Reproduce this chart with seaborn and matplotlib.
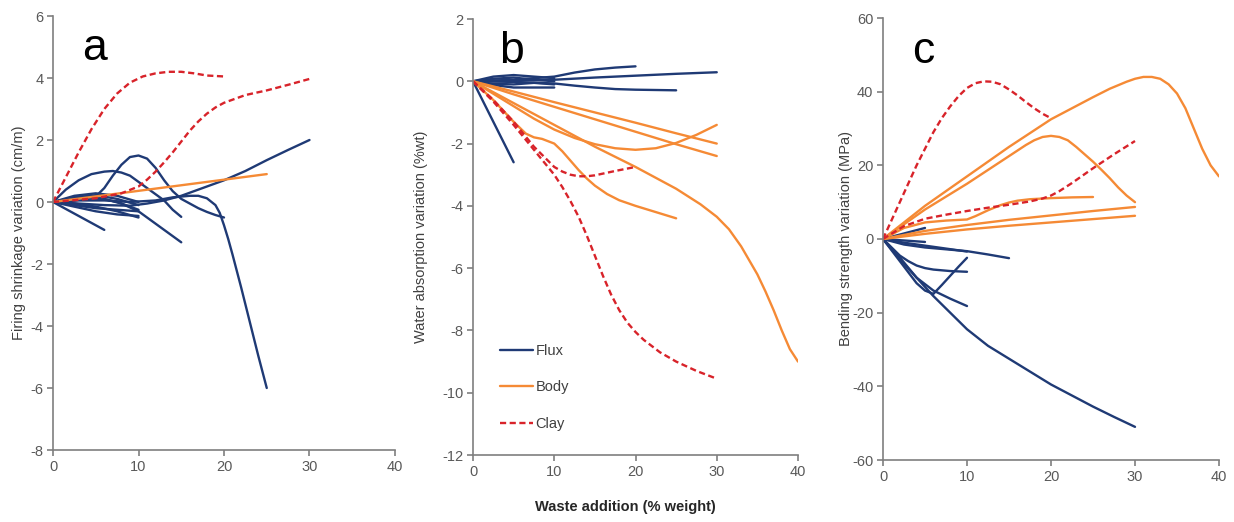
import numpy as np
import pandas as pd
import matplotlib
matplotlib.use("Agg")
import matplotlib.pyplot as plt
import seaborn as sns

sns.set_style("white")
plt.rcParams['font.family'] = ['Liberation Sans', 'DejaVu Sans']
plt.rcParams['axes.unicode_minus'] = False

# ---------------- data ----------------
categories = ["Flux", "Body", "Clay"]
colors = {"Flux": "#1F3A75", "Body": "#F58A35", "Clay": "#D8232A"}

# Panel a: Firing shrinkage variation (cm/m)
a_flux = [
    ([0, 2, 4, 6], [0, -0.3, -0.6, -0.9]),
    ([0, 1.5, 3, 4.5, 6, 7, 8, 9, 10, 11, 12, 13, 14, 15],
     [0, 0.4, 0.7, 0.9, 0.98, 1.0, 0.95, 0.85, 0.65, 0.45, 0.25, 0.05, -0.25, -0.48]),
    ([0, 2, 4, 5, 6, 7, 8, 9, 10, 11, 12, 13, 14, 15, 16, 17, 18, 19, 20],
     [0, 0.05, 0.1, 0.18, 0.45, 0.85, 1.2, 1.45, 1.5, 1.4, 1.1, 0.7, 0.35, 0.1, -0.05, -0.2, -0.32, -0.42, -0.5]),
    ([0, 3, 6, 9, 12, 14, 16, 17, 18, 19, 19.5, 20, 20.5, 21, 22, 23, 24, 25],
     [0, 0.05, 0.05, 0.0, 0.05, 0.15, 0.2, 0.2, 0.12, -0.1, -0.35, -0.75, -1.2, -1.7, -2.75, -3.85, -4.95, -6.0]),
    ([0, 3, 6, 9, 11, 13, 15, 17.5, 20, 22.5, 25, 27.5, 30],
     [0, -0.05, -0.1, -0.12, -0.05, 0.05, 0.2, 0.45, 0.7, 1.0, 1.35, 1.68, 2.0]),
    ([0, 3, 6, 8, 10, 12.5, 15], [0, 0.12, 0.1, -0.05, -0.3, -0.8, -1.3]),
    ([0, 2.5, 5, 7.5, 10], [0, 0.2, 0.28, 0.2, 0.0]),
    ([0, 2.5, 5, 7.5, 10], [0, 0.15, 0.22, 0.1, -0.1]),
    ([0, 2.5, 5, 7.5, 10], [0, -0.1, -0.2, -0.25, -0.3]),
    ([0, 2.5, 5, 7.5, 10], [0, -0.15, -0.3, -0.4, -0.45]),
    ([0, 2.5, 5, 7.5, 10], [0, -0.05, -0.15, -0.3, -0.5]),
    ([0, 2.5, 5, 7.5, 10], [0, 0.1, 0.15, 0.0, -0.25]),
]
a_body = [
    ([0, 5, 10, 15, 20, 25], [0, 0.18, 0.36, 0.54, 0.72, 0.9]),
]
a_clay = [
    ([0, 1.5, 3, 4.5, 6, 7.5, 9, 10.5, 12, 13.5, 15, 16.5, 18, 20],
     [0, 0.8, 1.6, 2.35, 3.0, 3.5, 3.85, 4.05, 4.15, 4.2, 4.2, 4.15, 4.08, 4.05]),
    ([0, 5, 8, 10, 11, 12, 13, 14, 15, 16, 17, 18, 19, 20, 22.5, 25, 27.5, 30],
     [0, 0.12, 0.28, 0.5, 0.72, 0.98, 1.28, 1.6, 1.95, 2.3, 2.6, 2.85, 3.05, 3.2, 3.45, 3.6, 3.78, 3.97]),
]

# Panel b: Water absorption variation (%wt)
b_flux = [
    ([0, 5, 10, 12.5, 15, 17.5, 20], [0, 0.05, 0.15, 0.28, 0.38, 0.44, 0.48]),
    ([0, 5, 10, 15, 20, 25, 30], [0, 0.02, 0.05, 0.12, 0.18, 0.24, 0.29]),
    ([0, 5, 10, 12.5, 15, 17.5, 20, 25], [0, -0.02, -0.07, -0.14, -0.2, -0.25, -0.27, -0.29]),
    ([0, 2.5, 5, 7.5, 10], [0, 0.15, 0.2, 0.15, 0.1]),
    ([0, 2.5, 5, 7.5, 10], [0, 0.08, 0.12, 0.05, 0.0]),
    ([0, 2.5, 5, 7.5, 10], [0, -0.08, -0.1, -0.05, -0.1]),
    ([0, 2.5, 5, 7.5, 10], [0, -0.12, -0.2, -0.2, -0.2]),
    ([0, 5], [0, -2.6]),
]
b_body = [
    ([0, 5, 10, 15, 20, 25, 30], [0, -0.33, -0.67, -1.0, -1.33, -1.67, -2.0]),
    ([0, 5, 10, 15, 20, 25, 30], [0, -0.42, -0.82, -1.22, -1.62, -2.02, -2.4]),
    ([0, 2.5, 5, 7.5, 10, 12.5, 15, 17.5, 20, 22.5, 25, 27.5, 30],
     [0, -0.4, -0.8, -1.2, -1.55, -1.82, -2.02, -2.15, -2.2, -2.15, -1.98, -1.72, -1.4]),
    ([0, 2.5, 5, 6.5, 7.5, 8.5, 10, 11, 12, 13, 14, 15, 16.5, 18, 20, 22.5, 25],
     [0, -0.6, -1.3, -1.68, -1.8, -1.85, -2.0, -2.25, -2.55, -2.85, -3.12, -3.35, -3.62, -3.82, -4.0, -4.2, -4.4]),
    ([0, 5, 10, 15, 20, 25, 28, 30, 31.5, 33, 34, 35, 36, 37, 38, 39, 40],
     [0, -0.7, -1.4, -2.1, -2.75, -3.45, -3.95, -4.35, -4.75, -5.3, -5.75, -6.2, -6.75, -7.35, -8.0, -8.6, -9.0]),
]
b_clay = [
    ([0, 2.5, 5, 7.5, 10, 11, 12, 13, 14, 15, 17.5, 20],
     [0, -0.6, -1.3, -2.1, -2.75, -2.9, -3.0, -3.05, -3.05, -3.02, -2.88, -2.75]),
    ([0, 2.5, 5, 7.5, 10, 11, 12, 13, 14, 15, 16, 17, 18, 19, 20, 21, 22, 23, 24, 25, 27.5, 30],
     [0, -0.65, -1.4, -2.2, -3.0, -3.4, -3.85, -4.35, -4.95, -5.6, -6.25, -6.85, -7.35, -7.75, -8.05, -8.3, -8.5, -8.7, -8.85, -9.0, -9.3, -9.55]),
]

# Panel c: Bending strength variation (MPa)
c_flux = [
    ([0, 2, 4, 6, 8, 10, 12.5, 15, 17.5, 20, 22.5, 25, 27.5, 30],
     [0, -5, -10.5, -15.5, -20, -24.5, -29, -32.5, -36, -39.5, -42.5, -45.5, -48.3, -51]),
    ([0, 2, 4, 6, 8, 10], [0, -5.5, -10.5, -14, -16.2, -18.2]),
    ([0, 2, 4, 5, 6, 7, 8, 9, 10], [0, -6, -12, -14, -14.9, -12.5, -10, -7.5, -5.1]),
    ([0, 2, 3, 4, 5, 6, 8, 10], [0, -4.5, -6, -7.2, -7.9, -8.3, -8.7, -8.9]),
    ([0, 2.5, 5, 7.5, 10, 12.5, 15], [0, -1.5, -2.3, -2.8, -3.3, -4.2, -5.2]),
    ([0, 2.5, 5, 7.5, 10], [0, -1.0, -1.8, -2.6, -3.4]),
    ([0, 2.5, 5], [0, -0.4, -0.8]),
    ([0, 2.5, 5], [0, 1.5, 3.0]),
]
c_body = [
    ([0, 5, 10, 15, 20, 25, 27, 29, 30, 31, 32, 33, 34, 35, 36, 37, 38, 39, 40],
     [0, 9, 17, 25, 32.5, 38.5, 40.8, 42.7, 43.5, 44, 44, 43.5, 42, 39.5, 35.5, 30, 24.5, 20, 17]),
    ([0, 5, 10, 15, 17, 18, 19, 20, 21, 22, 23, 24, 25, 26, 27, 28, 29, 30],
     [0, 8, 15, 22.5, 25.5, 26.8, 27.7, 28, 27.7, 26.8, 25, 23, 21, 18.8, 16.5, 14, 11.8, 10]),
    ([0, 2.5, 5, 7.5, 10, 11, 12.5, 14, 15, 16, 17.5, 20, 22.5, 25],
     [0, 3, 4.5, 5, 5.3, 6.2, 7.8, 9.2, 9.9, 10.4, 10.8, 11.1, 11.3, 11.4]),
    ([0, 5, 10, 15, 20, 25, 30], [0, 2.2, 3.8, 5.2, 6.4, 7.6, 8.7]),
    ([0, 5, 10, 15, 20, 25, 30], [0, 1.4, 2.6, 3.6, 4.5, 5.4, 6.3]),
]
c_clay = [
    ([0, 1, 2, 3, 4, 5, 6, 7, 8, 9, 10, 11, 12, 13, 14, 15, 16, 17, 18, 19, 20],
     [0, 5, 10, 15, 20, 24.5, 29, 32.8, 36, 38.8, 41, 42.3, 42.8, 42.7, 42, 40.6, 39, 37.2, 35.5, 34, 32.8]),
    ([0, 2.5, 5, 7.5, 10, 12.5, 15, 17.5, 19, 20, 21, 22.5, 24, 25, 27.5, 30],
     [0, 3.5, 5.5, 6.6, 7.6, 8.5, 9.3, 10.2, 11.0, 11.8, 13.0, 15.2, 17.6, 19.2, 23, 26.6]),
]

panels = [
    ("a", "Firing shrinkage variation (cm/m)", (-8, 6), [-8, -6, -4, -2, 0, 2, 4, 6], a_flux, a_body, a_clay),
    ("b", "Water absorption variation (%wt)", (-12, 2), [-12, -10, -8, -6, -4, -2, 0, 2], b_flux, b_body, b_clay),
    ("c", "Bending strength variation (MPa)", (-60, 60), [-60, -40, -20, 0, 20, 40, 60], c_flux, c_body, c_clay),
]
x_ticks = [0, 10, 20, 30, 40]


def to_frame(flux, body, clay):
    rows = []
    sid = 0
    for cat, group in zip(categories, [flux, body, clay]):
        for xs, ys in group:
            for xv, yv in zip(xs, ys):
                rows.append({"x": xv, "y": yv, "type": cat, "series": sid})
            sid += 1
    return pd.DataFrame(rows)


fig = plt.figure(figsize=(12.34, 5.22), dpi=100)
boxes = [
    (53, 395, 16, 450),
    (473, 798, 19, 455),
    (883, 1219, 18, 460),
]
W, H = 1234, 522
ylabel_x = [-0.078, -0.138, -0.088]
axes = []
for i, ((letter, ylab, ylim, yticks, fl, bo, cl), (l, r, t, b)) in enumerate(zip(panels, boxes)):
    ax = fig.add_axes([l / W, 1 - b / H, (r - l) / W, (b - t) / H])
    axes.append(ax)
    df = to_frame(fl, bo, cl)
    sns.lineplot(data=df, x="x", y="y", hue="type", style="type", units="series",
                 estimator=None, sort=False, palette=colors,
                 hue_order=categories, style_order=categories,
                 dashes={"Flux": "", "Body": "", "Clay": (2.6, 1.5)},
                 linewidth=1.7, legend=(i == 1), ax=ax)
    ax.set_xlim(0, 40)
    ax.set_ylim(*ylim)
    ax.set_xticks(x_ticks)
    ax.set_yticks(yticks)
    ax.set_xticklabels([str(v) for v in x_ticks])
    ax.set_yticklabels([str(v) for v in yticks])
    for s in ["top", "right"]:
        ax.spines[s].set_visible(False)
    for s in ["left", "bottom"]:
        ax.spines[s].set_color("#7F7F7F")
        ax.spines[s].set_linewidth(1.2)
    ax.tick_params(axis="both", direction="out", length=4, width=1.2, color="#7F7F7F",
                   labelsize=10.5, labelcolor="#595959", left=True, bottom=True, pad=3)
    ax.set_xlabel("")
    ax.set_ylabel(ylab, fontsize=10.5, color="#404040")
    ax.yaxis.set_label_coords(ylabel_x[i], 0.5)
    ax.text(0.12, 0.925, letter, transform=ax.transAxes, fontsize=32,
            ha="center", va="center", color="black")
    ax.patch.set_alpha(0)

leg = axes[1].legend(loc="upper left", bbox_to_anchor=(0.083, 0.255), frameon=False,
                     fontsize=10.5, handlelength=2.25, handletextpad=0.2, labelspacing=1.55,
                     borderpad=0, borderaxespad=0)
for txt in leg.get_texts():
    txt.set_color("#404040")

fig.text(625 / W, 1 - 507 / H, "Waste addition (% weight)", fontsize=10.5,
         fontweight="bold", ha="center", va="center", color="#262626")

fig.savefig("out.png", dpi=100)
